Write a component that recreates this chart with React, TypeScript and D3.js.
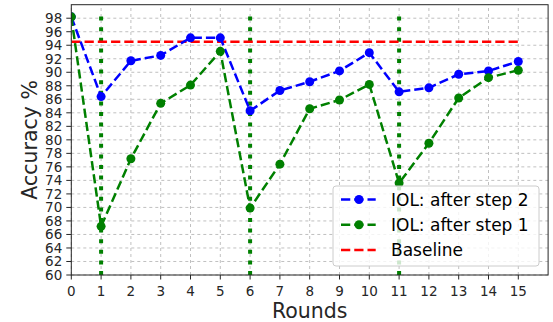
import React from "react";
import * as d3 from "d3";

const rounds = [0, 1, 2, 3, 4, 5, 6, 7, 8, 9, 10, 11, 12, 13, 14, 15];
const step2 = [98.2, 86.4, 91.7, 92.5, 95.1, 95.1, 84.3, 87.3, 88.6, 90.2, 92.9, 87.1, 87.7, 89.7, 90.2, 91.6];
const step1 = [98.2, 67.2, 77.2, 85.4, 88.1, 93.1, 69.9, 76.4, 84.6, 85.9, 88.2, 73.6, 79.5, 86.2, 89.2, 90.3];
const baseline = 94.5;
const taskRounds = [1, 6, 11];
const yTicks = d3.range(60, 100, 2);
const legendLabels = ["IOL: after step 2", "IOL: after step 1", "Baseline"];

const W = 553, H = 322;
const m = { left: 71.3, top: 4.7 };

export default function App() {
  const x = d3.scaleLinear().domain([0, 16]).range([m.left, m.left + 16 * 29.8]);
  const y = d3.scaleLinear().domain([60, 100]).range([275, m.top]);
  const x0 = x(0), x1 = x(16), y0 = y(60), y1 = y(100);
  const line = d3.line<number>().x((_, i) => x(rounds[i])).y((d) => y(d));
  const font = "DejaVu Sans, sans-serif";
  const series = [
    { data: step2, color: "#0000ff" },
    { data: step1, color: "#008000" },
  ];
  const lg = { x: 333, y: 186, w: 206, h: 80 };
  const dash = "9.25,4";
  return (
    <svg width={W} height={H} style={{ position: "absolute", left: 0, top: 0 }} fontFamily={font}>
      <rect x={0} y={0} width={W} height={H} fill="#fff" />
      <defs>
        <clipPath id="clip">
          <rect x={x0} y={y1} width={x1 - x0} height={y0 - y1} />
        </clipPath>
      </defs>
      {rounds.map((r) => (
        <line key={"gx" + r} x1={x(r)} x2={x(r)} y1={y0} y2={y1} stroke="#b0b0b0" strokeWidth={0.8} strokeDasharray="3,3" />
      ))}
      {yTicks.map((t) => (
        <line key={"gy" + t} x1={x0} x2={x1} y1={y(t)} y2={y(t)} stroke="#b0b0b0" strokeWidth={0.8} strokeDasharray="3,3" />
      ))}
      <g clipPath="url(#clip)">
        {taskRounds.map((r) => (
          <line key={"v" + r} x1={x(r)} x2={x(r)} y1={y(60)} y2={y(99.1)} stroke="#008000" strokeWidth={4} strokeDasharray="4,6.6" />
        ))}
        <line x1={x(0)} x2={x(15)} y1={y(baseline)} y2={y(baseline)} stroke="#ff0000" strokeWidth={2.5} strokeDasharray={dash} />
        {series.map((s, k) => (
          <g key={k}>
            <path d={line(s.data) || ""} fill="none" stroke={s.color} strokeWidth={2.5} strokeDasharray={dash} />
            {s.data.map((v, i) => (
              <circle key={i} cx={x(rounds[i])} cy={y(v)} r={4.5} fill={s.color} />
            ))}
          </g>
        ))}
      </g>
      <rect x={x0} y={y1} width={x1 - x0} height={y0 - y1} fill="none" stroke="#262626" strokeWidth={1} />
      {rounds.map((r) => (
        <g key={"tx" + r}>
          <line x1={x(r)} x2={x(r)} y1={y0} y2={y0 + 4.5} stroke="#262626" />
          <text x={x(r)} y={y0 + 20.5} fontSize={13.5} textAnchor="middle" fill="#262626">{r}</text>
        </g>
      ))}
      {yTicks.map((t) => (
        <g key={"ty" + t}>
          <line x1={x0} x2={x0 - 5} y1={y(t)} y2={y(t)} stroke="#262626" />
          <text x={x0 - 9} y={y(t) + 4.8} fontSize={13.5} textAnchor="end" fill="#262626">{t}</text>
        </g>
      ))}
      <text x={(x0 + x1) / 2} y={318.3} fontSize={20.5} textAnchor="middle" fill="#262626">Rounds</text>
      <text transform={`translate(36.5,${(y0 + y1) / 2}) rotate(-90)`} fontSize={20.5} textAnchor="middle" fill="#262626">Accuracy %</text>
      <rect x={lg.x} y={lg.y} width={lg.w} height={lg.h} rx={3} fill="#fff" fillOpacity={0.8} stroke="#cccccc" strokeWidth={1} />
      {legendLabels.map((lab, i) => {
        const cy = 199.5 + i * 25.3;
        const color = i === 0 ? "#0000ff" : i === 1 ? "#008000" : "#ff0000";
        return (
          <g key={lab}>
            <line x1={341} x2={375.7} y1={cy} y2={cy} stroke={color} strokeWidth={2.5} strokeDasharray={dash} />
            {i < 2 && <circle cx={359} cy={cy} r={4.5} fill={color} />}
            <text x={391} y={cy + 6.2} fontSize={17} fill="#000">{lab}</text>
          </g>
        );
      })}
    </svg>
  );
}
